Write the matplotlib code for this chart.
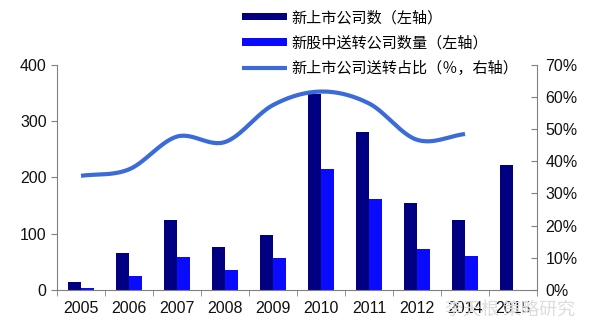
import matplotlib
matplotlib.use("Agg")
import matplotlib.pyplot as plt
import numpy as np

plt.rcParams['font.family'] = ['Liberation Sans', 'Noto Sans CJK SC', 'DejaVu Sans']

years = ["2005", "2006", "2007", "2008", "2009", "2010", "2011", "2012", "2014", "2015"]
new_ipo = [14, 65, 125, 76, 98, 348, 281, 154, 124, 222]
new_bonus = [4, 24, 59, 35, 57, 215, 162, 72, 60, np.nan]
ratio = [35.5, 37.5, 47.7, 46.0, 57.5, 61.7, 58.0, 46.7, 48.5, np.nan]

lbl_ipo = "新上市公司数（左轴）"
lbl_bonus = "新股中送转公司数量（左轴）"
lbl_ratio = "新上市公司送转占比（％，右轴）"


def smooth(xs, ys, n=30):
    # catmull-rom through the points, like excel's smoothed line
    xs = np.asarray(xs, float)
    ys = np.asarray(ys, float)
    px = np.concatenate([[2*xs[0]-xs[1]], xs, [2*xs[-1]-xs[-2]]])
    py = np.concatenate([[2*ys[0]-ys[1]], ys, [2*ys[-1]-ys[-2]]])
    ox, oy = [], []
    t = np.linspace(0, 1, n)
    for i in range(1, len(px)-2):
        for p, o in ((px, ox), (py, oy)):
            p0, p1, p2, p3 = p[i-1], p[i], p[i+1], p[i+2]
            o.extend(0.5*((2*p1) + (-p0+p2)*t + (2*p0-5*p1+4*p2-p3)*t**2
                          + (-p0+3*p1-3*p2+p3)*t**3))
    return np.array(ox), np.array(oy)


fig = plt.figure(figsize=(6, 3.36), dpi=100)
ax = fig.add_axes([0.095, 0.137, 0.8, 0.67])
x = np.arange(len(years))
w = 0.28
b1 = ax.bar(x - w/2, new_ipo, w, color="#000080", label=lbl_ipo)
b2 = ax.bar(x + w/2, new_bonus, w, color="#0A0AFF", label=lbl_bonus)

ax.set_xlim(-0.5, len(years) - 0.5)
ax.set_ylim(0, 400)
ax.set_yticks([0, 100, 200, 300, 400])
ax.set_xticks(x)
ax.set_xticklabels(years)
ax.set_xticks(np.arange(-0.5, len(years), 1), minor=True)
ax.tick_params(axis="x", which="major", length=0, pad=8, labelsize=11.5, colors="#111111")
ax.tick_params(axis="x", which="minor", length=4, color="#808080", direction="out")
ax.tick_params(axis="y", length=4, color="#808080", labelsize=11.5, labelcolor="#111111")
for s in ["top", "right"]:
    ax.spines[s].set_visible(False)
for s in ["left", "bottom"]:
    ax.spines[s].set_color("#808080")

ax2 = ax.twinx()
ok = ~np.isnan(ratio)
sx, sy = smooth(x[ok], np.array(ratio)[ok])
ln, = ax2.plot(sx, sy, color="#3B6BD8", lw=3, solid_capstyle="butt", label=lbl_ratio)
ax2.set_ylim(0, 70)
ax2.set_yticks(range(0, 71, 10))
ax2.set_yticklabels([f"{v}%" for v in range(0, 71, 10)])
ax2.tick_params(axis="y", length=4, direction="in", color="#808080", labelsize=11.5, labelcolor="#111111", pad=6)
for s in ["top", "left", "bottom"]:
    ax2.spines[s].set_visible(False)
ax2.spines["right"].set_color("#808080")

fig.legend(handles=[b1, b2, ln], loc="upper left", bbox_to_anchor=(0.388, 1.0),
           frameon=False, handlelength=3.0, handleheight=0.35,
           labelspacing=0.55, handletextpad=0.25, borderaxespad=0.2,
           prop={"family": ["Noto Sans CJK SC", "DejaVu Sans"], "size": 10.9})

fig.text(0.85, 0.075, "李天根 策略研究", color="#dcdcdc", fontsize=13,
         ha="center", va="center", family=["Noto Sans CJK SC", "DejaVu Sans"], zorder=0)

fig.savefig("out.png", dpi=100)
